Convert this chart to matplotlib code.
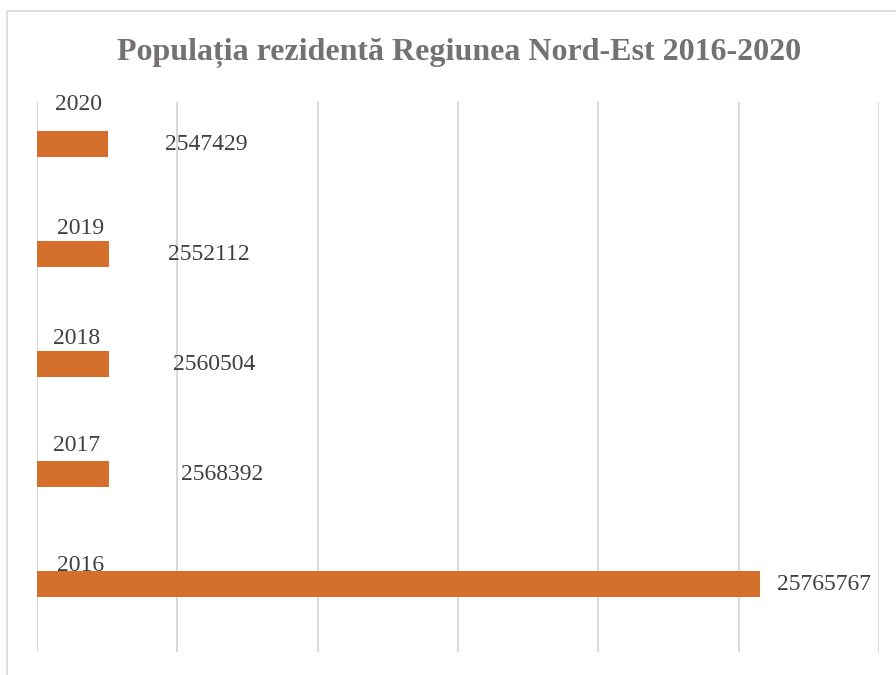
import matplotlib.pyplot as plt
from matplotlib.patches import Rectangle

years = ["2016", "2017", "2018", "2019", "2020"]
population = [25765767, 2568392, 2560504, 2552112, 2547429]
year_values = [2016, 2017, 2018, 2019, 2020]

# label nudges in pixels (the labels were hand-placed in the original)
value_dx = [17, 72, 64, 59, 57]
year_dx = [20, 16, 16, 20, 18]
year_dy = [6, 16, 13, 13, 27]

BAR = "#D46F2C"
GRID = "#D9D9D9"
TXT = "#404040"
FONT = ["Liberation Serif", "DejaVu Serif"]

fig = plt.figure(figsize=(8.96, 6.75), dpi=100)
fig.patches.append(Rectangle((7 / 896, -0.1), 1.2, 1.1 - 11 / 675,
                             transform=fig.transFigure, fill=False,
                             edgecolor=GRID, linewidth=1.2))
ax = fig.add_axes([37 / 896, 1 - 652 / 675, (879 - 37) / 896, 550 / 675])

h = 0.236
pos = list(range(len(years)))
ax.barh([p + h / 2 for p in pos], population, height=h, color=BAR)
ax.barh([p - h / 2 for p in pos], year_values, height=h, color=BAR)

ax.set_xlim(0, 30000000)
ax.set_ylim(-0.5, len(years) - 0.5)
ax.set_xticks(range(0, 30000001, 5000000))
ax.set_yticks([])
ax.tick_params(axis="x", length=0, labelbottom=False)
ax.grid(axis="x", color=GRID, linewidth=1.5)
ax.set_axisbelow(True)
for s in ax.spines.values():
    s.set_visible(False)

for p, v, yr, vdx, ydx, ydy in zip(pos, population, years, value_dx, year_dx, year_dy):
    ax.annotate(str(v), (v, p + h / 2), xytext=(vdx * 0.72, 0),
                textcoords="offset points", ha="left", va="center",
                fontsize=17, color=TXT, family=FONT)
    ax.annotate(yr, (0, p + h), xytext=(ydx * 0.72, ydy * 0.72),
                textcoords="offset points", ha="left", va="center",
                fontsize=17, color=TXT, family=FONT)

fig.text(0.512, 0.922, "Populația rezidentă Regiunea Nord-Est 2016-2020",
         ha="center", va="center", fontsize=23, fontweight="bold",
         color="#757171", family=FONT)

fig.savefig("out.png", dpi=100)
